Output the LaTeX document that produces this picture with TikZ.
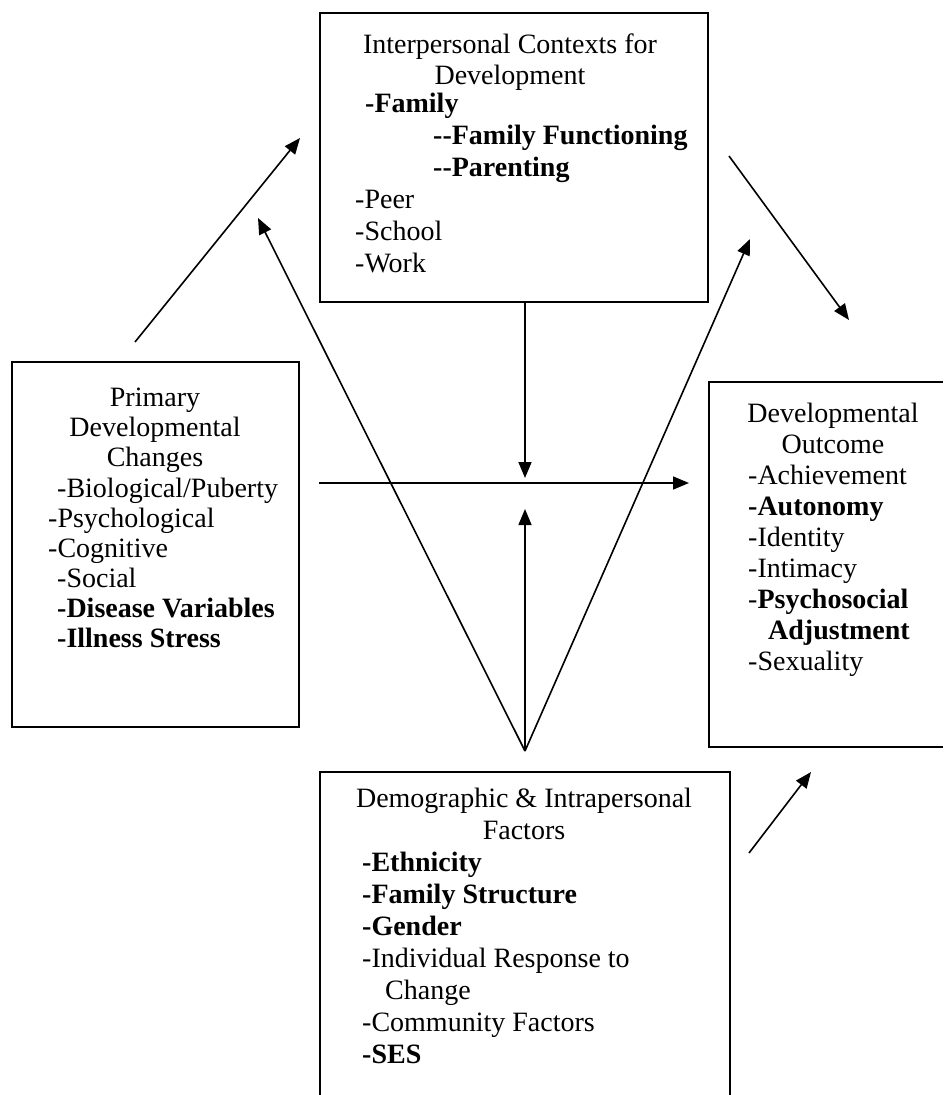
\documentclass[tikz,border=0pt]{standalone}
\usepackage{fontspec}
\setmainfont{Liberation Serif}
\usepackage{tikz}
\usetikzlibrary{arrows.meta}
\tikzset{
  boxline/.style={line width=1.7pt},
  flow/.style={-{Triangle[length=16pt,width=13pt]},line width=1.6pt},
  txt/.style={inner sep=0pt,font=\fontsize{28}{#1}\selectfont},
  txt/.default=31
}

\begin{document}
\begin{tikzpicture}[x=1pt,y=-1pt]
  \useasboundingbox (0,0) rectangle (943,1095);
  \draw[boxline] (320,12.7) rectangle (708,302);
  \draw[boxline] (12,362) rectangle (299,727);
  \draw[boxline] (943,382) -- (709,382) -- (709,747) -- (943,747);
  \draw[boxline] (320,1096) -- (320,772) -- (730,772) -- (730,1096);

  \node[txt,anchor=north,align=center] (ctxhead) at (510,34) {Interpersonal Contexts for\\Development};
  \node[txt=32,anchor=north west,align=left] (ctxlist) at (355,93) {\hspace*{10pt}\textbf{-Family}\\
    \hspace*{78pt}\textbf{-{}-Family Functioning}\\
    \hspace*{78pt}\textbf{-{}-Parenting}\\
    -Peer\\-School\\-Work};

  \node[txt=30,anchor=north,align=center] (pdchead) at (155,388) {Primary\\Developmental\\Changes};
  \node[txt=30,anchor=north west,align=left] (pdclist) at (48,478) {\hspace*{9pt}-Biological/Puberty\\
    -Psychological\\-Cognitive\\
    \hspace*{9pt}-Social\\
    \hspace*{9pt}\textbf{-Disease Variables}\\
    \hspace*{9pt}\textbf{-Illness Stress}};

  \node[txt,anchor=north,align=center] (outhead) at (833,403) {Developmental\\Outcome};
  \node[txt,anchor=north west,align=left] (outlist) at (748,465) {-Achievement\\\textbf{-Autonomy}\\
    -Identity\\-Intimacy\\-\textbf{Psychosocial}\\
    \hspace*{20pt}\textbf{Adjustment}\\-Sexuality};

  \node[txt=32,anchor=north,align=center] (demohead) at (524,788) {Demographic \& Intrapersonal\\Factors};
  \node[txt=32,anchor=north west,align=left] (demolist) at (362,852) {\textbf{-Ethnicity}\\
    \textbf{-Family Structure}\\\textbf{-Gender}\\
    -Individual Response to\\
    \hspace*{23pt}Change\\
    -Community Factors\\\textbf{-SES}};

  \coordinate (apex) at (525,751);
  \coordinate (ctxL) at (258,218);
  \coordinate (ctxR) at (750,239);
  \coordinate (midbot) at (525,509);
  \coordinate (pdctop) at (135,342);
  \coordinate (ctxin) at (300,138);
  \coordinate (ctxout) at (729,156);
  \coordinate (outin) at (849,320);
  \coordinate (ctxfoot) at (525,302);
  \coordinate (midtop) at (525,478);
  \coordinate (pdcright) at (319,483);
  \coordinate (outleft) at (689,483);
  \coordinate (demoright) at (749,853);
  \coordinate (outfoot) at (811,772);

  \foreach \tip in {ctxL,ctxR,midbot}{\draw[flow] (apex) -- (\tip);}
  \draw[flow] (pdctop) -- (ctxin);
  \draw[flow] (ctxout) -- (outin);
  \draw[flow] (ctxfoot) -- (midtop);
  \draw[flow] (pdcright) -- (outleft);
  \draw[flow] (demoright) -- (outfoot);
\end{tikzpicture}
\end{document}
